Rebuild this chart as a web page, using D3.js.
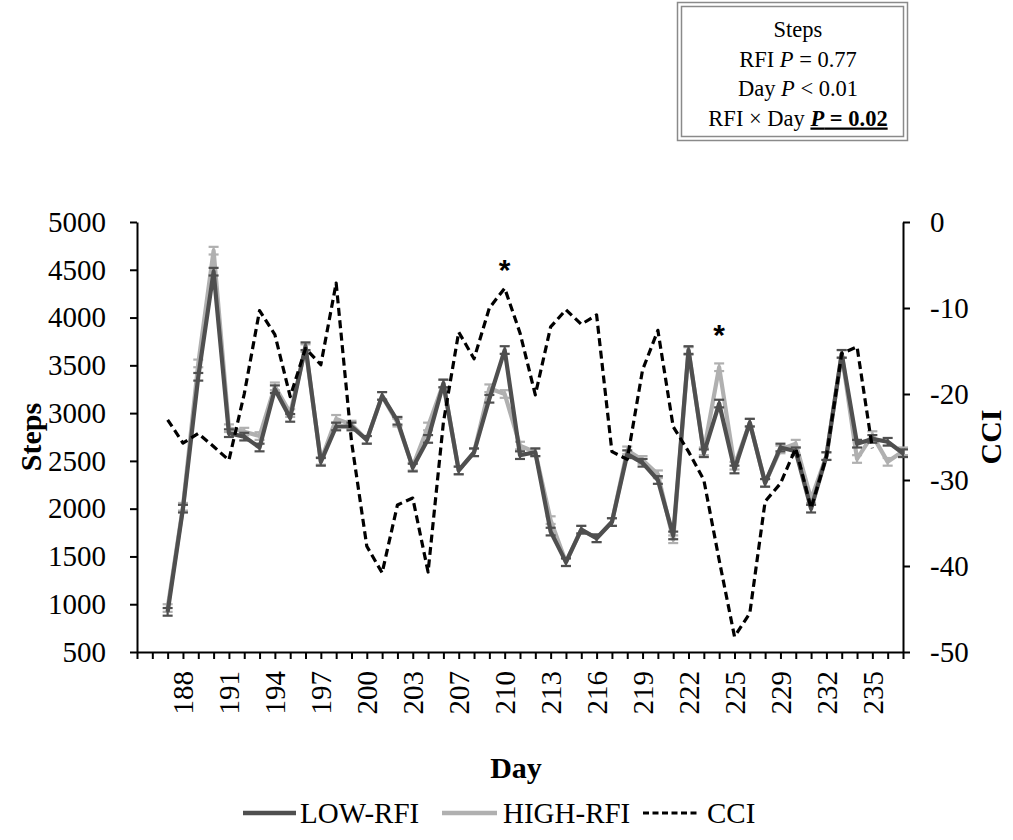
<!DOCTYPE html>
<html>
<head>
<meta charset="utf-8">
<script src="https://cdn.jsdelivr.net/npm/d3@7"></script>
<style>
  html, body { margin: 0; padding: 0; background: #fff; }
  svg { display: block; font-family: "Liberation Serif", "Times New Roman", serif; }
</style>
</head>
<body>
<svg id="chart" width="1013" height="840"></svg>
<script>
// ---------- data ----------
const days = [185,186,187,188,189,190,191,192,193,194,195,196,197,198,199,200,201,202,203,
  205,206,207,208,209,210,211,212,213,214,215,216,217,218,219,220,221,222,223,224,225,
  227,228,229,230,231,232,233,234,235,236,237];
const dayTickLabels = [188,191,194,197,200,203,207,210,213,216,219,222,225,229,232,235];
const lowRFI = [null,null,920,2000,3380,4480,2790,2754,2640,3250,2950,3700,2490,2860,2860,2720,3180,2920,2430,
  2730,3310,2400,2590,3150,3660,2560,2590,1760,1440,1780,1690,1860,2570,2480,2300,1720,3660,2580,3100,2410,
  2900,2270,2640,2600,2000,2550,3620,2680,2730,2700,2580];
const highRFI = [null,null,960,2020,3520,4700,2842,2806,2760,3280,3000,3680,2500,2940,2880,2720,3180,2900,2440,
  2860,3310,2400,2590,3260,3200,2660,2590,1880,1440,1780,1690,1860,2610,2510,2360,1680,3650,2600,3480,2450,
  2900,2270,2620,2680,2100,2550,3620,2520,2770,2490,2600];
const cci = [null,null,-23.0,-25.7,-24.6,-26.1,-27.7,-20.0,-10.3,-13.1,-20.3,-14.7,-16.6,-7.1,-25.5,-37.7,-40.8,-32.9,-32.1,
  -40.7,-23.3,-12.8,-15.9,-10.0,-7.7,-12.9,-20.1,-12.2,-10.2,-11.9,-10.8,-26.7,-27.6,-17.2,-12.6,-23.8,-26.7,-30.0,-39.3,-48.2,
  -45.5,-32.5,-30.4,-26.3,-33.3,-27.3,-15.3,-14.5,-26.3,null,null];
const seSteps = 40;
const stepsTicks = [500,1000,1500,2000,2500,3000,3500,4000,4500,5000];
const cciTicks = [-50,-40,-30,-20,-10,0];
const asterisks = [{day:210, steps:4550}, {day:224, steps:3870}];
const seriesNames = ["LOW-RFI", "HIGH-RFI", "CCI"];

// ---------- layout ----------
const svg = d3.select("#chart");
const mLeft = 137, mRight = 903, mTop = 222, mBottom = 652;
const colLow = "#4f4f4f", colHigh = "#b0b0b0";
const fs = 29;

const x = d3.scalePoint().domain(days).range([mLeft, mRight]).padding(0);
const yL = d3.scaleLinear().domain([500, 5000]).range([mBottom, mTop]);
const yR = d3.scaleLinear().domain([-50, 0]).range([mBottom, mTop]);

// ---------- axes ----------
const gx = svg.append("g").attr("transform", `translate(0,${mBottom})`)
  .call(d3.axisBottom(x).tickValues(days).tickSize(7).tickSizeOuter(0)
    .tickFormat(d => dayTickLabels.includes(d) ? String(d) : ""));
gx.selectAll("text")
  .attr("transform", "rotate(-90)")
  .attr("x", -19).attr("y", 0).attr("dy", "0.34em")
  .attr("text-anchor", "end")
  .style("font-size", fs + "px").style("font-family", "Liberation Serif");

const gyL = svg.append("g").attr("transform", `translate(${mLeft},0)`)
  .call(d3.axisLeft(yL).tickValues(stepsTicks).tickSize(7).tickSizeOuter(0).tickPadding(24).tickFormat(d3.format("d")));
gyL.selectAll("text").style("font-size", fs + "px").style("font-family", "Liberation Serif");

const gyR = svg.append("g").attr("transform", `translate(${mRight},0)`)
  .call(d3.axisRight(yR).tickValues(cciTicks).tickSize(7).tickSizeOuter(0).tickPadding(20).tickFormat(d => d === 0 ? "0" : "-" + Math.abs(d)));
gyR.selectAll("text").style("font-size", fs + "px").style("font-family", "Liberation Serif");

[gx, gyL, gyR].forEach(g => {
  g.select(".domain").attr("stroke", "#000").attr("stroke-width", 2);
  g.selectAll(".tick line").attr("stroke", "#000").attr("stroke-width", 2);
});

// axis titles
svg.append("text").attr("transform", `translate(41,437) rotate(-90)`)
  .attr("text-anchor", "middle").style("font-size", "30px").style("font-weight", "bold").text("Steps");
svg.append("text").attr("transform", `translate(1001,437) rotate(-90)`)
  .attr("text-anchor", "middle").style("font-size", "30px").style("font-weight", "bold").text("CCI");
svg.append("text").attr("x", 516).attr("y", 778)
  .attr("text-anchor", "middle").style("font-size", "30px").style("font-weight", "bold").text("Day");

// ---------- series ----------
function drawSteps(vals, color) {
  const pts = days.map((d, i) => ({d, v: vals[i]})).filter(p => p.v != null);
  const line = d3.line().x(p => x(p.d)).y(p => yL(p.v));
  svg.append("path").datum(pts).attr("d", line)
    .attr("fill", "none").attr("stroke", color).attr("stroke-width", 4.2).attr("stroke-linejoin", "round");
  const eb = svg.append("g").attr("stroke", color).attr("stroke-width", 2.2);
  pts.forEach(p => {
    const cx = x(p.d), y1 = yL(p.v + seSteps), y2 = yL(p.v - seSteps);
    eb.append("line").attr("x1", cx).attr("x2", cx).attr("y1", y1).attr("y2", y2);
    eb.append("line").attr("x1", cx - 5).attr("x2", cx + 5).attr("y1", y1).attr("y2", y1);
    eb.append("line").attr("x1", cx - 5).attr("x2", cx + 5).attr("y1", y2).attr("y2", y2);
  });
}
drawSteps(highRFI, colHigh);
drawSteps(lowRFI, colLow);

const cciPts = days.map((d, i) => ({d, v: cci[i]})).filter(p => p.v != null);
svg.append("path").datum(cciPts)
  .attr("d", d3.line().x(p => x(p.d)).y(p => yR(p.v)))
  .attr("fill", "none").attr("stroke", "#000").attr("stroke-width", 3.2)
  .attr("stroke-dasharray", "8,4.5").attr("stroke-linejoin", "round");

// asterisks
asterisks.forEach(a => {
  svg.append("text").attr("x", x(a.day)).attr("y", yL(a.steps) + 15)
    .attr("text-anchor", "middle").style("font-size", "30px").style("font-weight", "bold")
    .style("font-family", "Liberation Sans").text("*");
});

// ---------- stats box ----------
svg.append("rect").attr("x", 677.5).attr("y", 2.5).attr("width", 230).attr("height", 138)
  .attr("fill", "#fff").attr("stroke", "#8a8a8a").attr("stroke-width", 1.5);
svg.append("rect").attr("x", 681.5).attr("y", 6.5).attr("width", 222).attr("height", 130)
  .attr("fill", "none").attr("stroke", "#8a8a8a").attr("stroke-width", 1.5);
// each line: list of [text, style] runs
const statsRuns = [
  [["Steps", ""]],
  [["RFI ", ""], ["P", "i"], [" = 0.77", ""]],
  [["Day ", ""], ["P", "i"], [" < 0.01", ""]],
  [["RFI × Day ", ""], ["P", "ibu"], [" = 0.02", "bu"]]
];
statsRuns.forEach((runs, i) => {
  const t = svg.append("text").attr("x", 798).attr("y", 37 + i * 29.5)
    .attr("text-anchor", "middle").style("font-size", "22.5px");
  runs.forEach(([s, st]) => {
    const sp = t.append("tspan").text(s);
    if (st.includes("i")) sp.style("font-style", "italic");
    if (st.includes("b")) sp.style("font-weight", "bold");
    if (st.includes("u")) sp.style("text-decoration", "underline");
  });
});

// ---------- legend ----------
const lg = svg.append("g");
const legY = 813;
lg.append("line").attr("x1", 243).attr("x2", 296).attr("y1", legY).attr("y2", legY)
  .attr("stroke", colLow).attr("stroke-width", 4.5);
lg.append("text").attr("x", 300).attr("y", legY + 10).style("font-size", fs + "px").text(seriesNames[0]);
lg.append("line").attr("x1", 442).attr("x2", 497).attr("y1", legY).attr("y2", legY)
  .attr("stroke", colHigh).attr("stroke-width", 4.5);
lg.append("text").attr("x", 503).attr("y", legY + 10).style("font-size", fs + "px").text(seriesNames[1]);
lg.append("line").attr("x1", 643).attr("x2", 698).attr("y1", legY).attr("y2", legY)
  .attr("stroke", "#000").attr("stroke-width", 3).attr("stroke-dasharray", "6,3.5");
lg.append("text").attr("x", 707).attr("y", legY + 10).style("font-size", fs + "px").text(seriesNames[2]);
</script>
</body>
</html>
